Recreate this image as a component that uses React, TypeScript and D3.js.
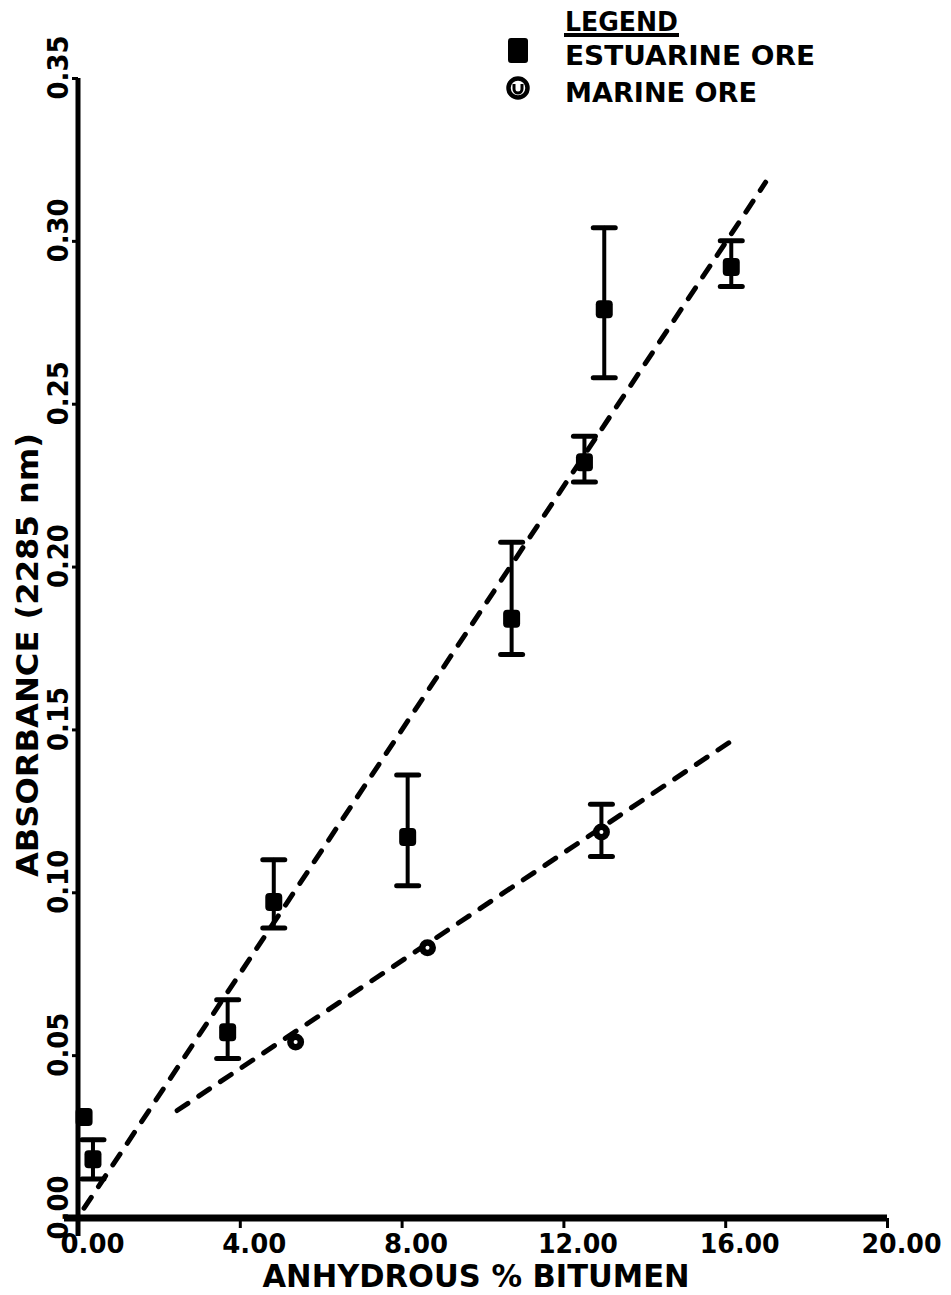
import React, { useEffect, useRef } from "react";
import * as d3 from "d3";

// axis ticks
const xTicks = [0, 4, 8, 12, 16, 20];
const yTicks = [0, 0.05, 0.1, 0.15, 0.2, 0.25, 0.3, 0.35];

// estuarine ore (filled squares), error bar ends (null = no bar)
const estuarineX = [0.15, 0.37, 3.7, 4.84, 8.15, 10.72, 12.52, 13.01, 16.15];
const estuarineY = [0.031, 0.018, 0.057, 0.097, 0.117, 0.184, 0.232, 0.279, 0.292];
const estuarineLow = [null, 0.012, 0.049, 0.089, 0.102, 0.173, 0.226, 0.258, 0.286];
const estuarineHigh = [null, 0.024, 0.067, 0.11, 0.136, 0.2075, 0.24, 0.304, 0.3];

// marine ore (circles)
const marineX = [5.38, 8.64, 12.94];
const marineY = [0.054, 0.083, 0.1185];
const marineLow = [null, null, 0.111];
const marineHigh = [null, null, 0.127];

// dashed fit lines, end points
const estuarineFitX = [0.15, 17.0];
const estuarineFitY = [0.003, 0.318];
const marineFitX = [2.45, 16.1];
const marineFitY = [0.033, 0.146];

const legendLabels = ["ESTUARINE ORE", "MARINE ORE"];

const FONT = "'DejaVu Sans', Verdana, sans-serif";

export default function App() {
  const ref = useRef<SVGSVGElement>(null);

  useEffect(() => {
    const svg = d3.select(ref.current);
    svg.selectAll("*").remove();

    const x = d3.scaleLinear().domain([0, 20]).range([78, 887]);
    const y = d3.scaleLinear().domain([0, 0.35]).range([1218, 78]);
    const fmt = d3.format(".2f");

    svg.append("rect").attr("width", 951).attr("height", 1295).attr("fill", "#fff");

    ///////////////////////////// x axis /////////////////////////////
    const gx = svg
      .append("g")
      .attr("transform", "translate(0," + y(0) + ")")
      .call(
        d3.axisBottom(x).tickValues(xTicks).tickSize(10).tickSizeOuter(0).tickFormat(fmt as any)
      );
    gx.select(".domain")
      .attr("d", "M" + (x(0) - 14) + ",0H" + x(20))
      .attr("stroke-width", 7);
    gx.selectAll(".tick line").attr("stroke-width", 3);
    gx.selectAll(".tick text")
      .attr("y", 35)
      .attr("dy", null)
      .attr("x", 14)
      .attr("font-family", FONT)
      .attr("font-weight", "bold")
      .attr("font-size", 26)
      .attr("textLength", (d: any) => (fmt(d).length === 5 ? 80 : 64))
      .attr("lengthAdjust", "spacingAndGlyphs");

    svg
      .append("text")
      .attr("x", 476)
      .attr("y", 1287)
      .attr("text-anchor", "middle")
      .attr("font-family", FONT)
      .attr("font-weight", "bold")
      .attr("font-size", 32)
      .attr("textLength", 427)
      .attr("lengthAdjust", "spacingAndGlyphs")
      .text("ANHYDROUS % BITUMEN");

    ///////////////////////////// y axis /////////////////////////////
    const gy = svg
      .append("g")
      .attr("transform", "translate(" + x(0) + ",0)")
      .call(
        d3.axisLeft(y).tickValues(yTicks).tickSize(6).tickSizeOuter(0).tickFormat(fmt as any)
      );
    gy.select(".domain")
      .attr("d", "M0," + (y(0) + 18) + "V" + y(0.35))
      .attr("stroke-width", 5);
    gy.selectAll(".tick line").attr("stroke-width", 3);
    gy.selectAll(".tick text")
      .attr("transform", "translate(-10,0) rotate(-90)")
      .attr("x", 11)
      .attr("y", 0)
      .attr("dy", null)
      .attr("text-anchor", "middle")
      .attr("font-family", FONT)
      .attr("font-weight", "bold")
      .attr("font-size", 28)
      .attr("textLength", 64)
      .attr("lengthAdjust", "spacingAndGlyphs");

    svg
      .append("text")
      .attr("transform", "translate(38,655) rotate(-90)")
      .attr("text-anchor", "middle")
      .attr("font-family", FONT)
      .attr("font-weight", "bold")
      .attr("font-size", 31)
      .attr("textLength", 444)
      .attr("lengthAdjust", "spacingAndGlyphs")
      .text("ABSORBANCE (2285 nm)");

    ///////////////////////////// fit lines /////////////////////////////
    const fitPath = (xs: number[], ys: number[]) =>
      d3
        .line<[number, number]>()
        .x((d) => x(d[0]))
        .y((d) => y(d[1]))(xs.map((v, i) => [v, ys[i]] as [number, number]));

    [
      [estuarineFitX, estuarineFitY],
      [marineFitX, marineFitY],
    ].forEach(([xs, ys]) => {
      svg
        .append("path")
        .attr("d", fitPath(xs, ys) as string)
        .attr("fill", "none")
        .attr("stroke", "#000")
        .attr("stroke-width", 5)
        .attr("stroke-dasharray", "13 13")
        .attr("stroke-linecap", "round");
    });

    ///////////////////////////// error bars /////////////////////////////
    const errorBars = (xs: number[], lo: (number | null)[], hi: (number | null)[]) => {
      const g = svg.append("g").attr("stroke", "#000").attr("stroke-linecap", "round");
      xs.forEach((v, i) => {
        const l = lo[i];
        const h = hi[i];
        if (l === null || h === null) return;
        g.append("line")
          .attr("x1", x(v))
          .attr("x2", x(v))
          .attr("y1", y(l))
          .attr("y2", y(h))
          .attr("stroke-width", 4);
        [l, h].forEach((e) => {
          g.append("line")
            .attr("x1", x(v) - 11)
            .attr("x2", x(v) + 11)
            .attr("y1", y(e))
            .attr("y2", y(e))
            .attr("stroke-width", 5);
        });
      });
    };
    errorBars(estuarineX, estuarineLow, estuarineHigh);
    errorBars(marineX, marineLow, marineHigh);

    ///////////////////////////// markers /////////////////////////////
    svg
      .append("g")
      .selectAll("rect")
      .data(estuarineX)
      .enter()
      .append("rect")
      .attr("x", (d) => x(d) - 8.5)
      .attr("y", (d, i) => y(estuarineY[i]) - 9)
      .attr("width", 17)
      .attr("height", 18)
      .attr("rx", 4)
      .attr("fill", "#000");

    const mg = svg.append("g");
    mg.selectAll("circle.outer")
      .data(marineX)
      .enter()
      .append("circle")
      .attr("class", "outer")
      .attr("cx", (d) => x(d))
      .attr("cy", (d, i) => y(marineY[i]))
      .attr("r", 8.5)
      .attr("fill", "#000");
    mg.selectAll("circle.inner")
      .data(marineX)
      .enter()
      .append("circle")
      .attr("class", "inner")
      .attr("cx", (d) => x(d))
      .attr("cy", (d, i) => y(marineY[i]))
      .attr("r", 2)
      .attr("fill", "#fff");

    ///////////////////////////// legend /////////////////////////////
    const lg = svg.append("g").attr("font-family", FONT).attr("font-weight", "bold");
    lg.append("text")
      .attr("x", 565)
      .attr("y", 31)
      .attr("font-size", 26)
      .attr("textLength", 113)
      .attr("lengthAdjust", "spacingAndGlyphs")
      .text("LEGEND");
    lg.append("line")
      .attr("x1", 564)
      .attr("x2", 679)
      .attr("y1", 35)
      .attr("y2", 35)
      .attr("stroke", "#000")
      .attr("stroke-width", 4);
    lg.append("rect")
      .attr("x", 508)
      .attr("y", 38)
      .attr("width", 20)
      .attr("height", 25)
      .attr("rx", 3)
      .attr("fill", "#000");
    lg.append("circle")
      .attr("cx", 518)
      .attr("cy", 88)
      .attr("r", 9.5)
      .attr("fill", "none")
      .attr("stroke", "#000")
      .attr("stroke-width", 4.5);
    lg.append("path")
      .attr("d", "M514,84 V89 A4,4 0 0 0 522,89 V84")
      .attr("fill", "none")
      .attr("stroke", "#000")
      .attr("stroke-width", 3);
    legendLabels.forEach((t, i) => {
      lg.append("text")
        .attr("x", 565)
        .attr("y", 65 + i * 37)
        .attr("font-size", 27)
        .attr("textLength", i === 0 ? 250 : 192)
        .attr("lengthAdjust", "spacingAndGlyphs")
        .text(t);
    });
  }, []);

  return (
    <div style={{ position: "absolute", left: 0, top: 0 }}>
      <svg ref={ref} width={951} height={1295} style={{ display: "block" }} />
    </div>
  );
}
